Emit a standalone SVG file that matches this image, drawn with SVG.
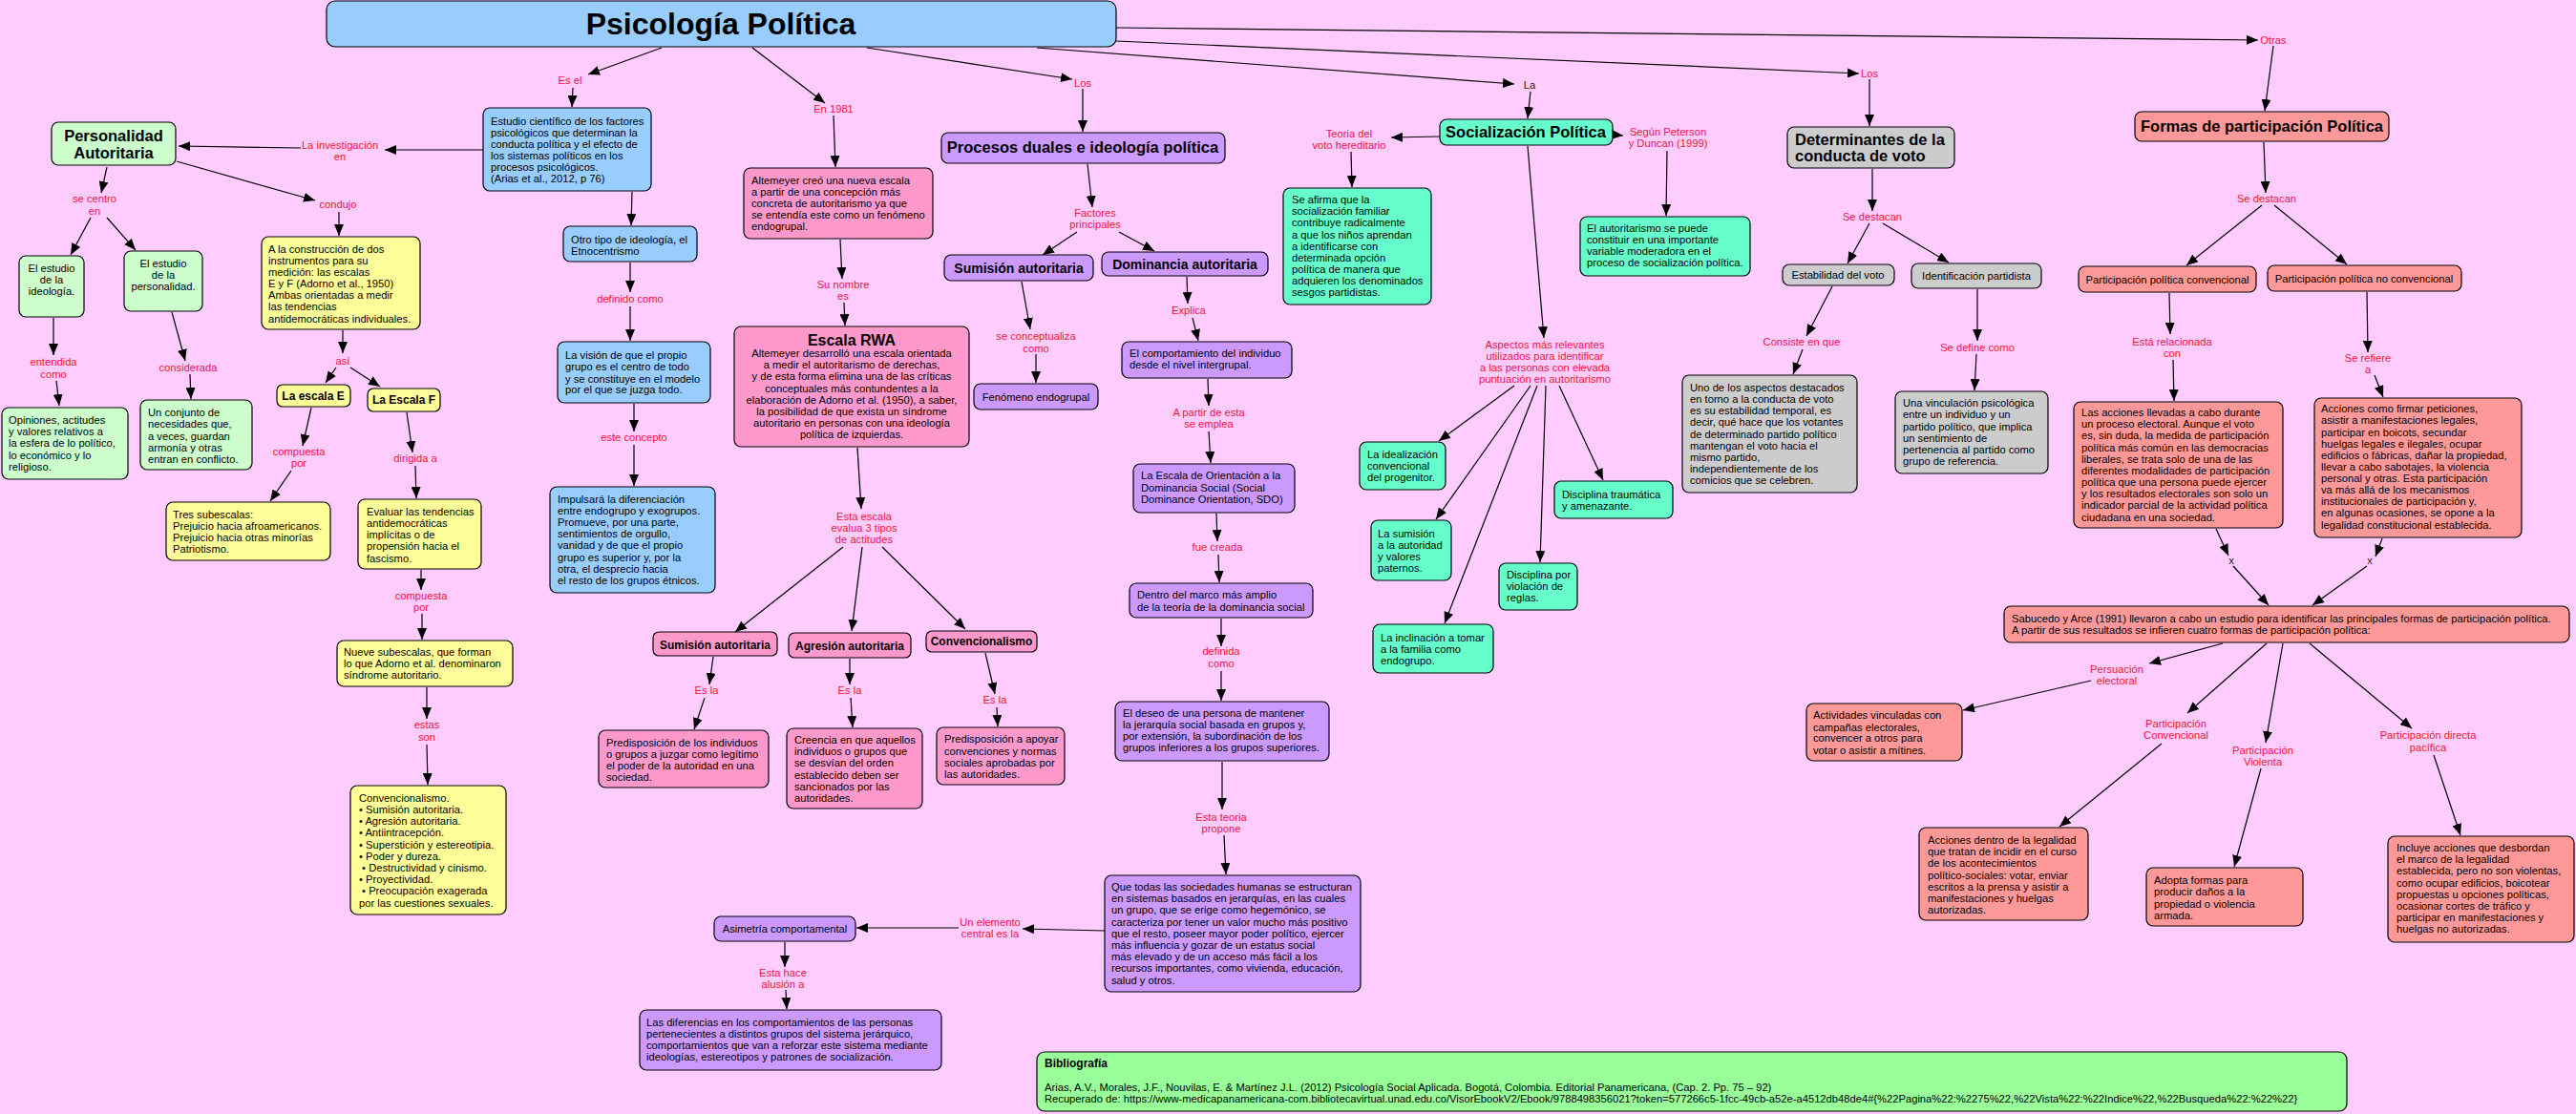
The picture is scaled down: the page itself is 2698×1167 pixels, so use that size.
<svg xmlns="http://www.w3.org/2000/svg" width="2698" height="1167" viewBox="0 0 2698 1167">
<defs>
<marker id="ah" markerUnits="userSpaceOnUse" markerWidth="12" markerHeight="10" viewBox="0 0 12 10" refX="12" refY="5" orient="auto"><path d="M0,0 L12,5 L0,10 z" fill="#000"/></marker>
<style>
text{font-family:"Liberation Sans",Arial,sans-serif;font-size:11.2px;fill:#000}
g rect{stroke:#000;stroke-width:1.2}
.blue{fill:#99ccff}.green{fill:#ccffcc}.yel{fill:#ffff99}.pink{fill:#ff99cc}.pur{fill:#cc99ff}.teal{fill:#66ffcc}.gray{fill:#cccccc}.sal{fill:#ff9999}.bib{fill:#99ff99}
.c{text-anchor:middle}
.h{font-weight:bold;font-size:16.5px}
.hs{font-weight:bold;font-size:12px}
.hm{font-weight:bold;font-size:14px}
.l{fill:#f0143c;text-anchor:middle}
.k{fill:#222;text-anchor:middle}
#conn line{stroke:#000;stroke-width:1.2;marker-end:url(#ah)}
</style>
</defs>
<rect x="0" y="0" width="2698" height="1167" fill="#ffccff"/>
<g id="conn">
<line x1="693" y1="50" x2="616" y2="78"/>
<line x1="600" y1="92" x2="599" y2="112"/>
<line x1="506" y1="157" x2="403" y2="157"/>
<line x1="315" y1="155" x2="187" y2="153"/>
<line x1="112" y1="175" x2="106" y2="202"/>
<line x1="185" y1="169" x2="330" y2="210"/>
<line x1="95" y1="228" x2="74" y2="267"/>
<line x1="112" y1="228" x2="142" y2="262"/>
<line x1="56" y1="333" x2="56" y2="372"/>
<line x1="59" y1="399" x2="62" y2="425"/>
<line x1="180" y1="327" x2="194" y2="378"/>
<line x1="199" y1="392" x2="200" y2="418"/>
<line x1="355" y1="222" x2="355" y2="247"/>
<line x1="359" y1="346" x2="359" y2="370"/>
<line x1="352" y1="385" x2="341" y2="401"/>
<line x1="367" y1="385" x2="398" y2="405"/>
<line x1="326" y1="427" x2="317" y2="467"/>
<line x1="305" y1="493" x2="283" y2="525"/>
<line x1="426" y1="432" x2="432" y2="474"/>
<line x1="435" y1="488" x2="436" y2="522"/>
<line x1="441" y1="597" x2="441" y2="618"/>
<line x1="442" y1="643" x2="442" y2="670"/>
<line x1="447" y1="720" x2="447" y2="753"/>
<line x1="447" y1="780" x2="448" y2="822"/>
<line x1="662" y1="201" x2="661" y2="236"/>
<line x1="660" y1="275" x2="660" y2="306"/>
<line x1="660" y1="321" x2="660" y2="357"/>
<line x1="664" y1="423" x2="664" y2="452"/>
<line x1="664" y1="466" x2="664" y2="509"/>
<line x1="788" y1="50" x2="864" y2="108"/>
<line x1="873" y1="121" x2="875" y2="175"/>
<line x1="880" y1="251" x2="882" y2="292"/>
<line x1="884" y1="317" x2="885" y2="341"/>
<line x1="898" y1="469" x2="902" y2="533"/>
<line x1="883" y1="573" x2="770" y2="662"/>
<line x1="903" y1="573" x2="892" y2="661"/>
<line x1="924" y1="573" x2="1011" y2="659"/>
<line x1="747" y1="688" x2="743" y2="717"/>
<line x1="738" y1="731" x2="727" y2="764"/>
<line x1="890" y1="690" x2="890" y2="717"/>
<line x1="891" y1="731" x2="893" y2="762"/>
<line x1="1032" y1="684" x2="1042" y2="727"/>
<line x1="1044" y1="741" x2="1045" y2="761"/>
<line x1="908" y1="50" x2="1123" y2="83"/>
<line x1="1134" y1="93" x2="1134" y2="138"/>
<line x1="1139" y1="172" x2="1144" y2="217"/>
<line x1="1128" y1="243" x2="1092" y2="267"/>
<line x1="1172" y1="243" x2="1209" y2="263"/>
<line x1="1070" y1="295" x2="1079" y2="345"/>
<line x1="1085" y1="371" x2="1085" y2="401"/>
<line x1="1243" y1="290" x2="1244" y2="318"/>
<line x1="1249" y1="333" x2="1255" y2="357"/>
<line x1="1265" y1="397" x2="1266" y2="425"/>
<line x1="1266" y1="452" x2="1268" y2="485"/>
<line x1="1274" y1="538" x2="1275" y2="567"/>
<line x1="1276" y1="581" x2="1277" y2="610"/>
<line x1="1279" y1="648" x2="1279" y2="677"/>
<line x1="1279" y1="703" x2="1279" y2="734"/>
<line x1="1280" y1="798" x2="1280" y2="848"/>
<line x1="1282" y1="875" x2="1284" y2="916"/>
<line x1="1157" y1="975" x2="1071" y2="973"/>
<line x1="1004" y1="972" x2="897" y2="972"/>
<line x1="822" y1="987" x2="822" y2="1013"/>
<line x1="823" y1="1037" x2="824" y2="1057"/>
<line x1="1169" y1="29" x2="2365" y2="42"/>
<line x1="1169" y1="43" x2="1947" y2="77"/>
<line x1="1086" y1="50" x2="1586" y2="88"/>
<line x1="1603" y1="96" x2="1600" y2="124"/>
<line x1="1508" y1="143" x2="1457" y2="144"/>
<line x1="1415" y1="159" x2="1416" y2="196"/>
<line x1="1689" y1="141" x2="1700" y2="142"/>
<line x1="1746" y1="158" x2="1745" y2="226"/>
<line x1="1600" y1="153" x2="1617" y2="354"/>
<line x1="1586" y1="404" x2="1507" y2="462"/>
<line x1="1603" y1="404" x2="1504" y2="544"/>
<line x1="1610" y1="404" x2="1513" y2="653"/>
<line x1="1619" y1="404" x2="1613" y2="589"/>
<line x1="1633" y1="404" x2="1679" y2="503"/>
<line x1="1958" y1="83" x2="1958" y2="132"/>
<line x1="1961" y1="177" x2="1961" y2="221"/>
<line x1="1958" y1="234" x2="1935" y2="276"/>
<line x1="1972" y1="234" x2="2041" y2="275"/>
<line x1="1919" y1="300" x2="1892" y2="352"/>
<line x1="1888" y1="366" x2="1878" y2="392"/>
<line x1="2071" y1="303" x2="2071" y2="357"/>
<line x1="2070" y1="371" x2="2068" y2="409"/>
<line x1="2381" y1="48" x2="2372" y2="116"/>
<line x1="2371" y1="149" x2="2373" y2="202"/>
<line x1="2369" y1="215" x2="2290" y2="278"/>
<line x1="2382" y1="215" x2="2458" y2="277"/>
<line x1="2272" y1="307" x2="2273" y2="350"/>
<line x1="2276" y1="377" x2="2277" y2="420"/>
<line x1="2479" y1="306" x2="2480" y2="369"/>
<line x1="2487" y1="393" x2="2496" y2="416"/>
<line x1="2321" y1="554" x2="2334" y2="582"/>
<line x1="2339" y1="593" x2="2376" y2="634"/>
<line x1="2495" y1="564" x2="2488" y2="583"/>
<line x1="2479" y1="593" x2="2422" y2="634"/>
<line x1="2328" y1="674" x2="2251" y2="695"/>
<line x1="2190" y1="713" x2="2056" y2="744"/>
<line x1="2374" y1="674" x2="2291" y2="747"/>
<line x1="2264" y1="779" x2="2157" y2="866"/>
<line x1="2391" y1="674" x2="2373" y2="778"/>
<line x1="2368" y1="805" x2="2340" y2="908"/>
<line x1="2419" y1="674" x2="2526" y2="763"/>
<line x1="2549" y1="791" x2="2577" y2="875"/>
</g>
<g id="labels">
<text class="l" x="597" y="88">Es el</text>
<text class="l" x="356" y="156">La investigación<tspan x="356" y="168">en</tspan></text>
<text class="l" x="99" y="212">se centro<tspan x="99" y="225">en</tspan></text>
<text class="l" x="354" y="218">condujo</text>
<text class="l" x="56" y="383">entendida<tspan x="56" y="396">como</tspan></text>
<text class="l" x="197" y="389">considerada</text>
<text class="l" x="359" y="382">así</text>
<text class="l" x="313" y="477">compuesta<tspan x="313" y="489">por</tspan></text>
<text class="l" x="435" y="484">dirigida a</text>
<text class="l" x="441" y="628">compuesta<tspan x="441" y="640">por</tspan></text>
<text class="l" x="447" y="763">estas<tspan x="447" y="776">son</tspan></text>
<text class="l" x="660" y="317">definido como</text>
<text class="l" x="664" y="462">este concepto</text>
<text class="l" x="873" y="118">En 1981</text>
<text class="l" x="883" y="302">Su nombre<tspan x="883" y="314">es</tspan></text>
<text class="l" x="905" y="545">Esta escala<tspan x="905" y="557">evalua 3 tipos</tspan><tspan x="905" y="569">de actitudes</tspan></text>
<text class="l" x="740" y="727">Es la</text>
<text class="l" x="890" y="727">Es la</text>
<text class="l" x="1042" y="737">Es la</text>
<text class="l" x="1134" y="91">Los</text>
<text class="l" x="1147" y="227">Factores<tspan x="1147" y="239">principales</tspan></text>
<text class="l" x="1085" y="356">se conceptualiza<tspan x="1085" y="369">como</tspan></text>
<text class="l" x="1245" y="329">Explica</text>
<text class="l" x="1266" y="436">A partir de esta<tspan x="1266" y="448">se emplea</tspan></text>
<text class="l" x="1275" y="577">fue creada</text>
<text class="l" x="1279" y="686">definida<tspan x="1279" y="699">como</tspan></text>
<text class="l" x="1279" y="860">Esta teoria<tspan x="1279" y="872">propone</tspan></text>
<text class="l" x="1037" y="970">Un elemento<tspan x="1037" y="982">central es la</tspan></text>
<text class="l" x="820" y="1023">Esta hace<tspan x="820" y="1035">alusión a</tspan></text>
<text class="k" x="1602" y="93">La</text>
<text class="l" x="1413" y="144">Teoria del<tspan x="1413" y="156">voto hereditario</tspan></text>
<text class="l" x="1747" y="142">Según Peterson<tspan x="1747" y="154">y Duncan (1999)</tspan></text>
<text class="l" x="1618" y="365">Aspectos más relevantes<tspan x="1618" y="377">utilizados para identificar</tspan><tspan x="1618" y="389">a las personas con elevada</tspan><tspan x="1618" y="401">puntuación en autoritarismo</tspan></text>
<text class="l" x="1958" y="81">Los</text>
<text class="l" x="1961" y="231">Se destacan</text>
<text class="l" x="1887" y="362">Consiste en que</text>
<text class="l" x="2071" y="368">Se define como</text>
<text class="l" x="2381" y="46">Otras</text>
<text class="l" x="2374" y="212">Se destacan</text>
<text class="l" x="2275" y="362">Está relacionada<tspan x="2275" y="374">con</tspan></text>
<text class="l" x="2480" y="379">Se refiere<tspan x="2480" y="391">a</tspan></text>
<text class="k" x="2337" y="591">x</text>
<text class="k" x="2482" y="591">x</text>
<text class="l" x="2217" y="705">Persuación<tspan x="2217" y="717">electoral</tspan></text>
<text class="l" x="2279" y="762">Participación<tspan x="2279" y="774">Convencional</tspan></text>
<text class="l" x="2370" y="790">Participación<tspan x="2370" y="802">Violenta</tspan></text>
<text class="l" x="2543" y="774">Participación directa<tspan x="2543" y="787">pacífica</tspan></text>
</g>
<g id="title"><rect class="blue" x="342" y="1" width="827" height="48" rx="9"/><text class="c" x="755" y="36" style="font-weight:bold;font-size:32px">Psicología Política</text></g>
<g id="estudio"><rect class="blue" x="506" y="113" width="176" height="87" rx="7"/><text x="514" y="131">Estudio científico de los factores<tspan x="514" y="143">psicológicos que determinan la</tspan><tspan x="514" y="155">conducta política y el efecto de</tspan><tspan x="514" y="167">los sistemas políticos en los</tspan><tspan x="514" y="179">procesos psicológicos.</tspan><tspan x="514" y="191">(Arias et al., 2012, p 76)</tspan></text></g>
<g id="personalidad"><rect class="green" x="54" y="128" width="130" height="45" rx="7"/><text class="c h" x="119" y="148">Personalidad<tspan x="119" y="166">Autoritaria</tspan></text></g>
<g id="ideologia"><rect class="green" x="20" y="268" width="68" height="64" rx="7"/><text class="c" x="54" y="285">El estudio<tspan x="54" y="297">de la</tspan><tspan x="54" y="309">ideología.</tspan></text></g>
<g id="estpers"><rect class="green" x="130" y="263" width="82" height="63" rx="7"/><text class="c" x="171" y="280">El estudio<tspan x="171" y="292">de la</tspan><tspan x="171" y="304">personalidad.</tspan></text></g>
<g id="construccion"><rect class="yel" x="274" y="248" width="166" height="97" rx="7"/><text x="281" y="265">A la construcción de dos<tspan x="281" y="277">instrumentos para su</tspan><tspan x="281" y="289">medición: las escalas</tspan><tspan x="281" y="301">E y F (Adorno et al., 1950)</tspan><tspan x="281" y="313">Ambas orientadas a medir</tspan><tspan x="281" y="325">las tendencias</tspan><tspan x="281" y="338">antidemocráticas individuales.</tspan></text></g>
<g id="opiniones"><rect class="green" x="2" y="427" width="132" height="75" rx="7"/><text x="9" y="444">Opiniones, actitudes<tspan x="9" y="456">y valores relativos a</tspan><tspan x="9" y="468">la esfera de lo político,</tspan><tspan x="9" y="481">lo económico y lo</tspan><tspan x="9" y="493">religioso.</tspan></text></g>
<g id="conjunto"><rect class="green" x="147" y="419" width="117" height="73" rx="7"/><text x="155" y="436">Un conjunto de<tspan x="155" y="448">necesidades que,</tspan><tspan x="155" y="461">a veces, guardan</tspan><tspan x="155" y="473">armonía y otras</tspan><tspan x="155" y="485">entran en conflicto.</tspan></text></g>
<g id="escalaE"><rect class="yel" x="290" y="403" width="77" height="23" rx="6"/><text class="c hs" x="328" y="419">La escala E</text></g>
<g id="escalaF"><rect class="yel" x="385" y="407" width="76" height="24" rx="6"/><text class="c hs" x="423" y="423">La Escala F</text></g>
<g id="tres"><rect class="yel" x="174" y="526" width="172" height="61" rx="7"/><text x="181" y="543">Tres subescalas:<tspan x="181" y="555">Prejuicio hacia afroamericanos.</tspan><tspan x="181" y="567">Prejuicio hacia otras minorías</tspan><tspan x="181" y="579">Patriotismo.</tspan></text></g>
<g id="evaluar"><rect class="yel" x="375" y="523" width="129" height="73" rx="7"/><text x="384" y="540">Evaluar las tendencias<tspan x="384" y="552">antidemocráticas</tspan><tspan x="384" y="564">implícitas o de</tspan><tspan x="384" y="576">propensión hacia el</tspan><tspan x="384" y="589">fascismo.</tspan></text></g>
<g id="nueve"><rect class="yel" x="353" y="671" width="184" height="48" rx="7"/><text x="360" y="687">Nueve subescalas, que forman<tspan x="360" y="699">lo que Adorno et al. denominaron</tspan><tspan x="360" y="711">síndrome autoritario.</tspan></text></g>
<g id="lista"><rect class="yel" x="367" y="823" width="163" height="135" rx="7"/><text x="376" y="840">Convencionalismo.<tspan x="376" y="852">• Sumisión autoritaria.</tspan><tspan x="376" y="864">• Agresión autoritaria.</tspan><tspan x="376" y="876">• Antiintracepción.</tspan><tspan x="376" y="889">• Superstición y estereotipia.</tspan><tspan x="376" y="901">• Poder y dureza.</tspan><tspan x="376" y="913"> • Destructividad y cinismo.</tspan><tspan x="376" y="925">• Proyectividad.</tspan><tspan x="376" y="937"> • Preocupación exagerada</tspan><tspan x="376" y="950">por las cuestiones sexuales.</tspan></text></g>
<g id="otrotipo"><rect class="blue" x="590" y="237" width="140" height="37" rx="7"/><text x="598" y="255">Otro tipo de ideología, el<tspan x="598" y="267">Etnocentrismo</tspan></text></g>
<g id="vision"><rect class="blue" x="584" y="358" width="160" height="64" rx="7"/><text x="592" y="376">La visión de que el propio<tspan x="592" y="388">grupo es el centro de todo</tspan><tspan x="592" y="401">y se constituye en el modelo</tspan><tspan x="592" y="412">por el que se juzga todo.</tspan></text></g>
<g id="impulsara"><rect class="blue" x="576" y="510" width="173" height="111" rx="7"/><text x="584" y="527">Impulsará la diferenciación<tspan x="584" y="539">entre endogrupo y exogrupos.</tspan><tspan x="584" y="551">Promueve, por una parte,</tspan><tspan x="584" y="563">sentimientos de orgullo,</tspan><tspan x="584" y="575">vanidad y de que el propio</tspan><tspan x="584" y="588">grupo es superior y, por la</tspan><tspan x="584" y="600">otra, el desprecio hacia</tspan><tspan x="584" y="612">el resto de los grupos étnicos.</tspan></text></g>
<g id="altemeyer"><rect class="pink" x="779" y="176" width="198" height="74" rx="7"/><text x="787" y="193">Altemeyer creó una nueva escala<tspan x="787" y="205">a partir de una concepción más</tspan><tspan x="787" y="217">concreta de autoritarismo ya que</tspan><tspan x="787" y="229">se entendía este como un fenómeno</tspan><tspan x="787" y="241">endogrupal.</tspan></text></g>
<g id="rwa"><rect class="pink" x="769" y="342" width="246" height="126" rx="7"/><text class="c" x="892" y="362" style="font-weight:bold;font-size:16px">Escala RWA</text><text class="c" x="892" y="374">Altemeyer desarrolló una escala orientada<tspan x="892" y="386">a medir el autoritarismo de derechas,</tspan><tspan x="892" y="398">y de esta forma elimina una de las críticas</tspan><tspan x="892" y="411">conceptuales más contundentes a la</tspan><tspan x="892" y="423">elaboración de Adorno et al. (1950), a saber,</tspan><tspan x="892" y="435">la posibilidad de que exista un síndrome</tspan><tspan x="892" y="447">autoritario en personas con una ideología</tspan><tspan x="892" y="459">política de izquierdas.</tspan></text></g>
<g id="sumrwa"><rect class="pink" x="684" y="662" width="130" height="25" rx="6"/><text class="c hs" x="749" y="680">Sumisión autoritaria</text></g>
<g id="agresion"><rect class="pink" x="826" y="663" width="128" height="26" rx="6"/><text class="c hs" x="890" y="681">Agresión autoritaria</text></g>
<g id="convrwa"><rect class="pink" x="970" y="661" width="116" height="22" rx="6"/><text class="c hs" x="1028" y="676">Convencionalismo</text></g>
<g id="predind"><rect class="pink" x="627" y="765" width="178" height="60" rx="7"/><text x="635" y="782">Predisposición de los individuos<tspan x="635" y="794">o grupos a juzgar como legítimo</tspan><tspan x="635" y="806">el poder de la autoridad en una</tspan><tspan x="635" y="818">sociedad.</tspan></text></g>
<g id="creencia"><rect class="pink" x="824" y="763" width="142" height="84" rx="7"/><text x="832" y="779">Creencia en que aquellos<tspan x="832" y="791">individuos o grupos que</tspan><tspan x="832" y="803">se desvían del orden</tspan><tspan x="832" y="816">establecido deben ser</tspan><tspan x="832" y="828">sancionados por las</tspan><tspan x="832" y="840">autoridades.</tspan></text></g>
<g id="predapo"><rect class="pink" x="981" y="762" width="134" height="60" rx="7"/><text x="989" y="778">Predisposición a apoyar<tspan x="989" y="791">convenciones y normas</tspan><tspan x="989" y="803">sociales aprobadas por</tspan><tspan x="989" y="815">las autoridades.</tspan></text></g>
<g id="procesos"><rect class="pur" x="986" y="139" width="297" height="32" rx="7"/><text class="c h" x="1134" y="160">Procesos duales e ideología política</text></g>
<g id="sumpur"><rect class="pur" x="989" y="267" width="156" height="27" rx="7"/><text class="c hm" x="1067" y="286">Sumisión autoritaria</text></g>
<g id="dominancia"><rect class="pur" x="1154" y="264" width="174" height="25" rx="7"/><text class="c hm" x="1241" y="282">Dominancia autoritaria</text></g>
<g id="fenomeno"><rect class="pur" x="1020" y="402" width="130" height="27" rx="7"/><text class="c" x="1085" y="420">Fenómeno endogrupal</text></g>
<g id="comport"><rect class="pur" x="1175" y="358" width="178" height="38" rx="7"/><text x="1183" y="374">El comportamiento del individuo<tspan x="1183" y="386">desde el nivel intergrupal.</tspan></text></g>
<g id="sdo"><rect class="pur" x="1187" y="486" width="169" height="51" rx="7"/><text x="1195" y="502">La Escala de Orientación a la<tspan x="1195" y="515">Dominancia Social (Social</tspan><tspan x="1195" y="527">Dominance Orientation, SDO)</tspan></text></g>
<g id="dentro"><rect class="pur" x="1183" y="611" width="192" height="36" rx="7"/><text x="1191" y="627">Dentro del marco más amplio<tspan x="1191" y="640">de la teoría de la dominancia social</tspan></text></g>
<g id="deseo"><rect class="pur" x="1168" y="735" width="224" height="62" rx="7"/><text x="1176" y="751">El deseo de una persona de mantener<tspan x="1176" y="763">la jerarquía social basada en grupos y,</tspan><tspan x="1176" y="775">por extensión, la subordinación de los</tspan><tspan x="1176" y="787">grupos inferiores a los grupos superiores.</tspan></text></g>
<g id="quetodas"><rect class="pur" x="1157" y="917" width="268" height="122" rx="7"/><text x="1164" y="933">Que todas las sociedades humanas se estructuran<tspan x="1164" y="945">en sistemas basados en jerarquías, en las cuales</tspan><tspan x="1164" y="957">un grupo, que se erige como hegemónico, se</tspan><tspan x="1164" y="970">caracteriza por tener un valor mucho más positivo</tspan><tspan x="1164" y="982">que el resto, poseer mayor poder político, ejercer</tspan><tspan x="1164" y="994">más influencia y gozar de un estatus social</tspan><tspan x="1164" y="1006">más elevado y de un acceso más fácil a los</tspan><tspan x="1164" y="1018">recursos importantes, como vivienda, educación,</tspan><tspan x="1164" y="1031">salud y otros.</tspan></text></g>
<g id="asimetria"><rect class="pur" x="748" y="960" width="148" height="26" rx="7"/><text class="c" x="822" y="977">Asimetría comportamental</text></g>
<g id="diferencias"><rect class="pur" x="670" y="1058" width="316" height="63" rx="7"/><text x="677" y="1075">Las diferencias en los comportamientos de las personas<tspan x="677" y="1087">pertenecientes a distintos grupos del sistema jerárquico,</tspan><tspan x="677" y="1099">comportamientos que van a reforzar este sistema mediante</tspan><tspan x="677" y="1111">ideologías, estereotipos y patrones de socialización.</tspan></text></g>
<g id="socializacion"><rect class="teal" x="1508" y="125" width="181" height="27" rx="7"/><text class="c h" x="1598" y="144">Socialización Política</text></g>
<g id="seafirma"><rect class="teal" x="1344" y="197" width="155" height="122" rx="7"/><text x="1353" y="213">Se afirma que la<tspan x="1353" y="225">socialización familiar</tspan><tspan x="1353" y="237">contribuye radicalmente</tspan><tspan x="1353" y="250">a que los niños aprendan</tspan><tspan x="1353" y="262">a identificarse con</tspan><tspan x="1353" y="274">determinada opción</tspan><tspan x="1353" y="286">política de manera que</tspan><tspan x="1353" y="298">adquieren los denominados</tspan><tspan x="1353" y="310">sesgos partidistas.</tspan></text></g>
<g id="moderadora"><rect class="teal" x="1655" y="227" width="178" height="62" rx="7"/><text x="1662" y="243">El autoritarismo se puede<tspan x="1662" y="255">constituir en una importante</tspan><tspan x="1662" y="267">variable moderadora en el</tspan><tspan x="1662" y="279">proceso de socialización política.</tspan></text></g>
<g id="idealizacion"><rect class="teal" x="1424" y="463" width="90" height="50" rx="7"/><text x="1432" y="480">La idealización<tspan x="1432" y="492">convencional</tspan><tspan x="1432" y="504">del progenitor.</tspan></text></g>
<g id="sumautoridad"><rect class="teal" x="1436" y="545" width="84" height="63" rx="7"/><text x="1443" y="563">La sumisión<tspan x="1443" y="575">a la autoridad</tspan><tspan x="1443" y="587">y valores</tspan><tspan x="1443" y="599">paternos.</tspan></text></g>
<g id="inclinacion"><rect class="teal" x="1438" y="654" width="126" height="51" rx="7"/><text x="1446" y="672">La inclinación a tomar<tspan x="1446" y="684">a la familia como</tspan><tspan x="1446" y="696">endogrupo.</tspan></text></g>
<g id="discviol"><rect class="teal" x="1570" y="590" width="82" height="49" rx="7"/><text x="1578" y="606">Disciplina por<tspan x="1578" y="618">violación de</tspan><tspan x="1578" y="630">reglas.</tspan></text></g>
<g id="disctrau"><rect class="teal" x="1628" y="504" width="124" height="39" rx="7"/><text x="1636" y="522">Disciplina traumática<tspan x="1636" y="534">y amenazante.</tspan></text></g>
<g id="determinantes"><rect class="gray" x="1872" y="133" width="175" height="43" rx="7"/><text class="h" x="1880" y="152">Determinantes de la<tspan x="1880" y="169">conducta de voto</tspan></text></g>
<g id="estabilidad"><rect class="gray" x="1867" y="277" width="117" height="22" rx="7"/><text class="c" x="1925" y="292">Estabilidad del voto</text></g>
<g id="identificacion"><rect class="gray" x="2002" y="276" width="136" height="26" rx="7"/><text class="c" x="2070" y="293">Identificación partidista</text></g>
<g id="unodelos"><rect class="gray" x="1762" y="393" width="183" height="123" rx="7"/><text x="1770" y="410">Uno de los aspectos destacados<tspan x="1770" y="422">en torno a la conducta de voto</tspan><tspan x="1770" y="434">es su estabilidad temporal, es</tspan><tspan x="1770" y="446">decir, qué hace que los votantes</tspan><tspan x="1770" y="459">de determinado partido político</tspan><tspan x="1770" y="471">mantengan el voto hacia el</tspan><tspan x="1770" y="483">mismo partido,</tspan><tspan x="1770" y="495">independientemente de los</tspan><tspan x="1770" y="507">comicios que se celebren.</tspan></text></g>
<g id="vinculacion"><rect class="gray" x="1985" y="410" width="160" height="86" rx="7"/><text x="1993" y="426">Una vinculación psicológica<tspan x="1993" y="438">entre un individuo y un</tspan><tspan x="1993" y="451">partido político, que implica</tspan><tspan x="1993" y="463">un sentimiento de</tspan><tspan x="1993" y="475">pertenencia al partido como</tspan><tspan x="1993" y="487">grupo de referencia.</tspan></text></g>
<g id="formas"><rect class="sal" x="2236" y="117" width="266" height="31" rx="7"/><text class="c h" x="2369" y="138">Formas de participación Política</text></g>
<g id="ppconv"><rect class="sal" x="2177" y="279" width="186" height="27" rx="7"/><text class="c" x="2270" y="297">Participación política convencional</text></g>
<g id="ppnoconv"><rect class="sal" x="2375" y="278" width="203" height="27" rx="7"/><text class="c" x="2476" y="296">Participación política no convencional</text></g>
<g id="llevadas"><rect class="sal" x="2172" y="421" width="219" height="132" rx="7"/><text x="2180" y="436">Las acciones llevadas a cabo durante<tspan x="2180" y="448">un proceso electoral. Aunque el voto</tspan><tspan x="2180" y="460">es, sin duda, la medida de participación</tspan><tspan x="2180" y="473">política más común en las democracias</tspan><tspan x="2180" y="485">liberales, se trata solo de una de las</tspan><tspan x="2180" y="497">diferentes modalidades de participación</tspan><tspan x="2180" y="509">política que una persona puede ejercer</tspan><tspan x="2180" y="521">y los resultados electorales son solo un</tspan><tspan x="2180" y="533">indicador parcial de la actividad política</tspan><tspan x="2180" y="546">ciudadana en una sociedad.</tspan></text></g>
<g id="firmar"><rect class="sal" x="2424" y="417" width="217" height="146" rx="7"/><text x="2431" y="432">Acciones como firmar peticiones,<tspan x="2431" y="444">asistir a manifestaciones legales,</tspan><tspan x="2431" y="457">participar en boicots, secundar</tspan><tspan x="2431" y="469">huelgas legales e ilegales, ocupar</tspan><tspan x="2431" y="481">edificios o fábricas, dañar la propiedad,</tspan><tspan x="2431" y="493">llevar a cabo sabotajes, la violencia</tspan><tspan x="2431" y="505">personal y otras. Esta participación</tspan><tspan x="2431" y="517">va más allá de los mecanismos</tspan><tspan x="2431" y="529">institucionales de participación y,</tspan><tspan x="2431" y="541">en algunas ocasiones, se opone a la</tspan><tspan x="2431" y="554">legalidad constitucional establecida.</tspan></text></g>
<g id="sabucedo"><rect class="sal" x="2099" y="635" width="592" height="38" rx="7"/><text x="2107" y="652">Sabucedo y Arce (1991) llevaron a cabo un estudio para identificar las principales formas de participación política.<tspan x="2107" y="664">A partir de sus resultados se infieren cuatro formas de participación política:</tspan></text></g>
<g id="actividades"><rect class="sal" x="1892" y="737" width="163" height="60" rx="7"/><text x="1899" y="753">Actividades vinculadas con<tspan x="1899" y="766">campañas electorales,</tspan><tspan x="1899" y="777">convencer a otros para</tspan><tspan x="1899" y="790">votar o asistir a mítines.</tspan></text></g>
<g id="legalidad"><rect class="sal" x="2010" y="867" width="177" height="97" rx="7"/><text x="2019" y="884">Acciones dentro de la legalidad<tspan x="2019" y="896">que tratan de incidir en el curso</tspan><tspan x="2019" y="908">de los acontecimientos</tspan><tspan x="2019" y="921">político-sociales: votar, enviar</tspan><tspan x="2019" y="933">escritos a la prensa y asistir a</tspan><tspan x="2019" y="945">manifestaciones y huelgas</tspan><tspan x="2019" y="957">autorizadas.</tspan></text></g>
<g id="adopta"><rect class="sal" x="2248" y="909" width="164" height="61" rx="7"/><text x="2256" y="926">Adopta formas para<tspan x="2256" y="938">producir daños a la</tspan><tspan x="2256" y="951">propiedad o violencia</tspan><tspan x="2256" y="963">armada.</tspan></text></g>
<g id="incluye"><rect class="sal" x="2501" y="876" width="195" height="111" rx="7"/><text x="2510" y="892">Incluye acciones que desbordan<tspan x="2510" y="904">el marco de la legalidad</tspan><tspan x="2510" y="916">establecida, pero no son violentas,</tspan><tspan x="2510" y="929">como ocupar edificios, boicotear</tspan><tspan x="2510" y="941">propuestas u opciones políticas,</tspan><tspan x="2510" y="953">ocasionar cortes de tráfico y</tspan><tspan x="2510" y="965">participar en manifestaciones y</tspan><tspan x="2510" y="977">huelgas no autorizadas.</tspan></text></g>
<g id="bibliografia"><rect class="bib" x="1086" y="1102" width="1372" height="62" rx="8"/><text class="hs" x="1094" y="1118">Bibliografía</text><text x="1094" y="1143">Arias, A.V., Morales, J.F., Nouvilas, E. &amp; Martínez J.L. (2012) Psicología Social Aplicada. Bogotá, Colombia. Editorial Panamericana,  (Cap. 2. Pp. 75 – 92)<tspan x="1094" y="1155">Recuperado de: https://www-medicapanamericana-com.bibliotecavirtual.unad.edu.co/VisorEbookV2/Ebook/9788498356021?token=577266c5-1fcc-49cb-a52e-a4512db48de4#{%22Pagina%22:%2275%22,%22Vista%22:%22Indice%22,%22Busqueda%22:%22%22}</tspan></text></g>
</svg>
